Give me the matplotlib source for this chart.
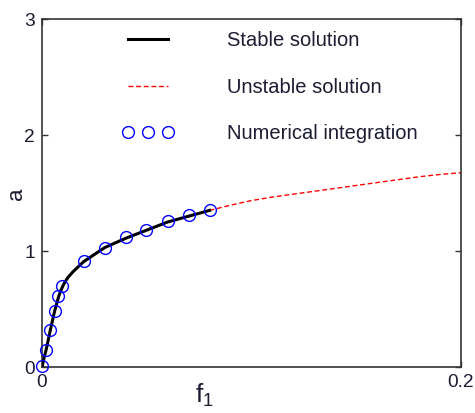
import matplotlib
matplotlib.use('Agg')
import matplotlib.pyplot as plt

plt.rcParams['font.family'] = ['Liberation Sans', 'DejaVu Sans']
plt.rcParams['mathtext.fontset'] = 'custom'
plt.rcParams['mathtext.rm'] = 'Liberation Sans'
plt.rcParams['mathtext.it'] = 'Liberation Sans'

TEXT = '#1c1c33'

# stable branch of the response curve
f_stable = [0, 0.001, 0.002, 0.004, 0.006, 0.008, 0.009, 0.010, 0.011, 0.0125,
            0.015, 0.020, 0.030, 0.040, 0.050, 0.060, 0.070, 0.080]
a_stable = [0, 0.08, 0.15, 0.32, 0.48, 0.61, 0.66, 0.70, 0.735, 0.775,
            0.825, 0.91, 1.03, 1.11, 1.18, 1.25, 1.30, 1.35]

# unstable branch
f_unstable = [0.080, 0.090, 0.100, 0.110, 0.120, 0.130, 0.140, 0.150,
              0.160, 0.170, 0.180, 0.190, 0.200]
a_unstable = [1.35, 1.395, 1.435, 1.465, 1.49, 1.515, 1.54, 1.565,
              1.59, 1.615, 1.64, 1.66, 1.675]

# numerical integration results
f_num = [0, 0.002, 0.004, 0.006, 0.0075, 0.0095, 0.020, 0.030, 0.040,
         0.0495, 0.060, 0.070, 0.080]
a_num = [0.01, 0.15, 0.32, 0.48, 0.61, 0.70, 0.91, 1.03, 1.12,
         1.18, 1.26, 1.31, 1.35]

fig = plt.figure(figsize=(4.75, 4.13), dpi=100)
ax = fig.add_axes([42 / 475, 46 / 413, 419 / 475, 348 / 413])

ax.plot(f_stable, a_stable, color='black', lw=2.2, label='Stable solution', zorder=3)
ax.plot(f_unstable, a_unstable, color='red', lw=1.0, ls=(0, (3.5, 2)),
        label='Unstable solution', zorder=2)
ax.plot(f_num, a_num, ls='none', marker='o', ms=8.5, mfc='none', mec='#0000ff',
        mew=1.0, label='Numerical integration', zorder=4, clip_on=False)

ax.set_xlim(0, 0.2)
ax.set_ylim(0, 3)
ax.set_xticks([0, 0.2])
ax.set_xticklabels(['0', '0.2'])
ax.set_yticks([0, 1, 2, 3])
ax.tick_params(direction='in', length=4, width=1, colors='#333333',
               labelcolor=TEXT, labelsize=13.8, top=True, right=True, pad=5)
for s in ax.spines.values():
    s.set_color('#333333')
    s.set_linewidth(1.2)

# axis labels placed by hand
fig.text(16.5 / 475, 1 - 194 / 413, 'a', fontsize=16, color=TEXT,
         rotation=90, ha='center', va='center')
fig.text(204 / 475, 1 - 395 / 413, r'$\mathregular{f_1}$', fontsize=19,
         color=TEXT, ha='center', va='center')

leg = ax.legend(loc='upper left', bbox_to_anchor=(0.191, 0.965), frameon=False,
                fontsize=14.5, handlelength=2.6, handletextpad=2.6,
                labelspacing=1.37, numpoints=3, borderpad=0, borderaxespad=0)
for t in leg.get_texts():
    t.set_color(TEXT)

fig.savefig('out.png', dpi=100)
